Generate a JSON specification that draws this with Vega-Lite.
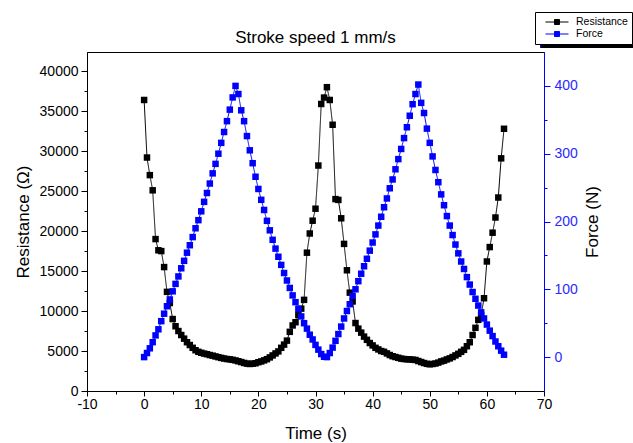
{
  "$schema": "https://vega.github.io/schema/vega-lite/v6.json",
  "width": 457,
  "height": 339,
  "autosize": "none",
  "padding": {"left": 87, "top": 52, "right": 89, "bottom": 52},
  "background": "white",
  "title": {"text": "Stroke speed 1 mm/s", "font": "Liberation Sans", "fontSize": 17, "fontWeight": "normal", "color": "black", "anchor": "middle", "frame": "group", "offset": 6, "dy": 41},
  "data": {"values": [
    {"t":0,"R":36400,"F":0},{"t":0.5,"R":29200,"F":6},{"t":1,"R":27000,"F":13},{"t":1.5,"R":25100,"F":22},{"t":2,"R":19000,"F":32},{"t":2.5,"R":17600,"F":41},{"t":3,"R":17500,"F":53},{"t":3.5,"R":15500,"F":64},{"t":4,"R":12400,"F":75},{"t":4.5,"R":11000,"F":85},
    {"t":5,"R":9000,"F":97},{"t":5.5,"R":8100,"F":108},{"t":6,"R":7500,"F":119},{"t":6.5,"R":7000,"F":131},{"t":7,"R":6550,"F":142},{"t":7.5,"R":6100,"F":154},{"t":8,"R":5750,"F":165},{"t":8.5,"R":5400,"F":177},{"t":9,"R":5100,"F":190},{"t":9.5,"R":4900,"F":202},
    {"t":10,"R":4780,"F":215},{"t":10.5,"R":4680,"F":229},{"t":11,"R":4600,"F":242},{"t":11.5,"R":4500,"F":256},{"t":12,"R":4420,"F":271},{"t":12.5,"R":4320,"F":285},{"t":13,"R":4230,"F":300},{"t":13.5,"R":4140,"F":316},{"t":14,"R":4060,"F":332},{"t":14.5,"R":4000,"F":348},
    {"t":15,"R":3960,"F":365},{"t":15.5,"R":3900,"F":383},{"t":16,"R":3820,"F":400},{"t":16.5,"R":3720,"F":388},{"t":17,"R":3620,"F":364},{"t":17.5,"R":3510,"F":348},{"t":18,"R":3420,"F":326},{"t":18.5,"R":3380,"F":305},{"t":19,"R":3420,"F":286},{"t":19.5,"R":3470,"F":266},
    {"t":20,"R":3600,"F":248},{"t":20.5,"R":3700,"F":232},{"t":21,"R":3830,"F":217},{"t":21.5,"R":3980,"F":201},{"t":22,"R":4200,"F":187},{"t":22.5,"R":4450,"F":173},{"t":23,"R":4700,"F":160},{"t":23.5,"R":4950,"F":148},{"t":24,"R":5400,"F":136},{"t":24.5,"R":5800,"F":124},
    {"t":25,"R":6300,"F":113},{"t":25.5,"R":7400,"F":102},{"t":26,"R":8200,"F":91},{"t":26.5,"R":8600,"F":81},{"t":27,"R":9500,"F":71},{"t":27.5,"R":10300,"F":60},{"t":28,"R":11400,"F":50},{"t":28.5,"R":17300,"F":42},{"t":29,"R":19700,"F":33},{"t":29.5,"R":21300,"F":26},
    {"t":30,"R":22800,"F":18},{"t":30.5,"R":28200,"F":11},{"t":31,"R":35900,"F":4.5},{"t":31.5,"R":36700,"F":0.5},{"t":32,"R":38000,"F":0},{"t":32.5,"R":36400,"F":6},{"t":33,"R":33300,"F":14},{"t":33.5,"R":24000,"F":24},{"t":34,"R":23900,"F":34},{"t":34.5,"R":21600,"F":45},
    {"t":35,"R":18400,"F":57},{"t":35.5,"R":15100,"F":68},{"t":36,"R":12300,"F":78},{"t":36.5,"R":11200,"F":90},{"t":37,"R":8500,"F":100},{"t":37.5,"R":7800,"F":112},{"t":38,"R":7300,"F":123},{"t":38.5,"R":6800,"F":134},{"t":39,"R":6400,"F":145},{"t":39.5,"R":6000,"F":157},
    {"t":40,"R":5700,"F":169},{"t":40.5,"R":5400,"F":181},{"t":41,"R":5200,"F":194},{"t":41.5,"R":5000,"F":207},{"t":42,"R":4900,"F":221},{"t":42.5,"R":4700,"F":234},{"t":43,"R":4500,"F":249},{"t":43.5,"R":4350,"F":262},{"t":44,"R":4250,"F":277},{"t":44.5,"R":4150,"F":292},
    {"t":45,"R":4050,"F":307},{"t":45.5,"R":4000,"F":323},{"t":46,"R":3970,"F":339},{"t":46.5,"R":3950,"F":356},{"t":47,"R":3920,"F":373},{"t":47.5,"R":3880,"F":388},{"t":48,"R":3750,"F":402},{"t":48.5,"R":3620,"F":375},{"t":49,"R":3500,"F":360},{"t":49.5,"R":3400,"F":337},
    {"t":50,"R":3340,"F":316},{"t":50.5,"R":3380,"F":296},{"t":51,"R":3440,"F":276},{"t":51.5,"R":3550,"F":258},{"t":52,"R":3700,"F":240},{"t":52.5,"R":3800,"F":224},{"t":53,"R":3950,"F":208},{"t":53.5,"R":4080,"F":194},{"t":54,"R":4250,"F":180},{"t":54.5,"R":4450,"F":166},
    {"t":55,"R":4650,"F":153},{"t":55.5,"R":4900,"F":141},{"t":56,"R":5150,"F":130},{"t":56.5,"R":5600,"F":118},{"t":57,"R":6100,"F":107},{"t":57.5,"R":7000,"F":96},{"t":58,"R":7900,"F":86},{"t":58.5,"R":8900,"F":76},{"t":59,"R":9500,"F":66},{"t":59.5,"R":11600,"F":57},
    {"t":60,"R":16200,"F":48},{"t":60.5,"R":18000,"F":39},{"t":61,"R":19800,"F":31},{"t":61.5,"R":21700,"F":23},{"t":62,"R":24200,"F":16},{"t":62.5,"R":29100,"F":9.5},{"t":63,"R":32800,"F":3.5}
  ]},
  "encoding": {
    "x": {"field": "t", "type": "quantitative",
      "scale": {"domain": [-10, 70], "nice": false, "zero": false},
      "axis": {"title": "Time (s)", "values": [-10,-5,0,5,10,15,20,25,30,35,40,45,50,55,60,65,70],
        "labelExpr": "datum.value % 10 === 0 ? '' + datum.value : ''",
        "tickSize": {"condition": {"test": "datum.value % 10 === 0", "value": 5}, "value": 3},
        "labelPadding": 1, "titlePadding": 14, "labelFlush": false}}
  },
  "layer": [
    {
      "encoding": {
        "y": {"field": "R", "type": "quantitative",
          "scale": {"domain": [0, 42400], "nice": false},
          "axis": {"orient": "left", "title": "Resistance (Ω)",
            "values": [0,2500,5000,7500,10000,12500,15000,17500,20000,22500,25000,27500,30000,32500,35000,37500,40000],
            "labelExpr": "datum.value % 5000 === 0 ? '' + datum.value : ''",
            "tickSize": {"condition": {"test": "datum.value % 5000 === 0", "value": 6}, "value": 3},
            "labelPadding": 3, "titlePadding": 7}},
        "color": {"datum": "Resistance", "type": "nominal",
          "scale": {"domain": ["Resistance", "Force"], "range": ["#000000", "#0000ff"]},
          "legend": {"title": null, "orient": "none", "legendX": 448, "legendY": -40, "zindex": 2,
            "direction": "vertical", "strokeColor": "black", "fillColor": "white",
            "padding": 4, "symbolOffset": 6, "labelOffset": 7, "rowPadding": 0,
            "clipHeight": 12, "labelFont": "Liberation Sans", "labelFontSize": 10.5, "labelColor": "black",
            "symbolType": "M-1,0H-0.24M0.24,0H1M-0.22,-0.22H0.22V0.22H-0.22Z",
            "symbolSize": 529, "symbolStrokeWidth": 1,
            "encode": {"symbols": {"update": {"fill": {"scale": "color", "field": "value"}, "stroke": {"scale": "color", "field": "value"}, "opacity": {"value": 1}}}}}}
      },
      "layer": [
        {"mark": {"type": "line", "strokeWidth": 1},
         "encoding": {"strokeDash": {"datum": "s1", "type": "nominal",
           "scale": {"domain": ["s1", "s2"], "range": [[1, 0], [1, 0]]},
           "legend": {"title": null, "orient": "none", "legendX": 453, "legendY": -35, "zindex": 1,
             "direction": "vertical", "strokeColor": "black", "fillColor": "black",
             "padding": 0, "symbolOffset": 0, "labelOffset": 0, "rowPadding": 0, "clipHeight": 15,
             "labelExpr": "''", "symbolType": "square", "symbolSize": 9216,
             "symbolFillColor": "black", "symbolStrokeColor": "black"}}}},
        {"mark": {"type": "point", "shape": "square", "filled": true, "size": 42, "opacity": 1}}
      ]
    },
    {
      "encoding": {
        "y": {"field": "F", "type": "quantitative",
          "scale": {"domain": [-50, 450], "nice": false, "zero": false},
          "axis": {"orient": "right", "title": "Force (N)", "titleAngle": 270,
            "values": [0,50,100,150,200,250,300,350,400],
            "labelExpr": "datum.value % 100 === 0 ? '' + datum.value : ''",
            "tickSize": {"condition": {"test": "datum.value % 100 === 0", "value": 6}, "value": 3},
            "domainColor": "#0000ff", "tickColor": "#0000ff", "labelColor": "#2a2aff",
            "labelPadding": 4, "titlePadding": 24}},
        "color": {"datum": "Force", "type": "nominal"}
      },
      "layer": [
        {"mark": {"type": "line", "strokeWidth": 1},
         "encoding": {"strokeDash": {"datum": "s2", "type": "nominal"}}},
        {"mark": {"type": "point", "shape": "square", "filled": true, "size": 42, "opacity": 1}}
      ]
    }
  ],
  "resolve": {"scale": {"y": "independent"}},
  "config": {
    "view": {"stroke": "black", "strokeWidth": 1},
    "axis": {"labelFont": "Liberation Sans", "titleFont": "Liberation Sans", "labelFontSize": 14, "titleFontSize": 17,
      "titleFontWeight": "normal", "grid": false, "domainColor": "black", "tickColor": "black",
      "labelColor": "black", "titleColor": "black", "domainWidth": 1, "tickWidth": 1}
  }
}
